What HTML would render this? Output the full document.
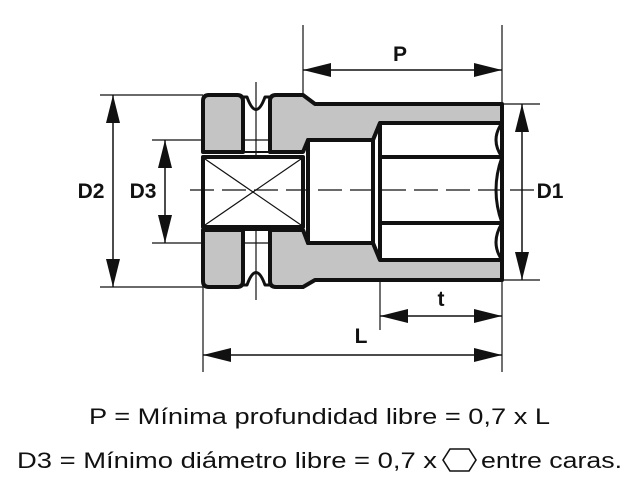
<!DOCTYPE html>
<html><head><style>
body{margin:0;background:#fff;width:639px;height:494px;overflow:hidden}
svg{display:block}
text{font-family:"Liberation Sans",sans-serif}
</style></head><body>
<svg width="639" height="494" viewBox="0 0 639 494" xmlns="http://www.w3.org/2000/svg">
<defs>
<marker id="b" viewBox="0 0 28 14" refX="28" refY="7" markerWidth="28" markerHeight="14" orient="auto-start-reverse" markerUnits="userSpaceOnUse"><path d="M0,0 L28,7 L0,14 z" fill="#111"/></marker>
</defs>
<g stroke="#111" stroke-width="1.2" fill="none">
<line x1="303" y1="25" x2="303" y2="95"/>
<line x1="502" y1="25" x2="502" y2="104"/>
<line x1="100" y1="95" x2="203" y2="95"/>
<line x1="100" y1="287" x2="203" y2="287"/>
<line x1="152" y1="140" x2="308" y2="140"/>
<line x1="152" y1="243" x2="308" y2="243"/>
<line x1="502" y1="104" x2="540" y2="104"/>
<line x1="502" y1="280" x2="540" y2="280"/>
<line x1="203" y1="287" x2="203" y2="372"/>
<line x1="502" y1="280" x2="502" y2="372"/>
<line x1="380" y1="280" x2="380" y2="330"/>
<line x1="256" y1="82" x2="256" y2="300"/>
</g>
<g stroke="#111" stroke-width="4" stroke-linejoin="round">
<path d="M203,152 L203,101 Q203,95 209,95 L237,95 Q243,95 243,101 L243,152 Z" fill="#c4c4c4"/>
<path d="M203,230 L203,281 Q203,287 209,287 L237,287 Q243,287 243,281 L243,230 Z" fill="#c4c4c4"/>
<path d="M243,97 L247,97 Q256,122 265,97 L270,97" fill="none" stroke-width="3"/>
<path d="M243,285 L247,285 Q256,260 265,285 L270,285" fill="none" stroke-width="3"/>
<line x1="243" y1="152" x2="270" y2="152" stroke-width="2"/>
<line x1="243" y1="230" x2="270" y2="230" stroke-width="2"/>
<path d="M270,152 L270,101 Q270,95 276,95 L303,95 L315,104 L502,104 L502,123 L380,123 L373,140 L308,140 L303,152 Z" fill="#c4c4c4"/>
<path d="M270,230 L270,281 Q270,287 276,287 L303,287 L315,280 L502,280 L502,260 L380,260 L373,243 L308,243 L303,230 Z" fill="#c4c4c4"/>
<rect x="203" y="157" width="100" height="70" fill="#fff"/>
<path d="M308,140 L373,140 L380,123 L502,123 L502,260 L380,260 L373,243 L308,243 Z" fill="#fff"/>
<line x1="373" y1="140" x2="373" y2="243"/>
<line x1="380" y1="123" x2="380" y2="260"/>
<line x1="380" y1="157" x2="502" y2="157"/>
<line x1="380" y1="223" x2="502" y2="223"/>
<path d="M502,123 Q490,140 502,157 Q490,190 502,223 Q490,243 502,260" fill="none" stroke-width="3"/>
</g>
<g stroke="#111" stroke-width="1.2">
<line x1="205" y1="159" x2="301" y2="225"/>
<line x1="205" y1="225" x2="301" y2="159"/>
<line x1="190" y1="190" x2="535" y2="190" stroke-dasharray="24,8"/>
</g>
<g stroke="#111" stroke-width="1.5">
<line x1="303" y1="70" x2="502" y2="70" marker-start="url(#b)" marker-end="url(#b)"/>
<line x1="113" y1="95" x2="113" y2="287" marker-start="url(#b)" marker-end="url(#b)"/>
<line x1="165" y1="140" x2="165" y2="243" marker-start="url(#b)" marker-end="url(#b)"/>
<line x1="522" y1="104" x2="522" y2="280" marker-start="url(#b)" marker-end="url(#b)"/>
<line x1="380" y1="316" x2="502" y2="316" marker-start="url(#b)" marker-end="url(#b)"/>
<line x1="203" y1="355" x2="502" y2="355" marker-start="url(#b)" marker-end="url(#b)"/>
</g>
<g font-weight="bold" font-size="21" fill="#111" text-anchor="middle">
<text x="400" y="61">P</text>
<text x="91" y="198">D2</text>
<text x="143" y="198">D3</text>
<text x="550" y="198">D1</text>
<text x="441" y="306">t</text>
<text x="361" y="343">L</text>
</g>
<g font-size="22" fill="#111">
<text x="89" y="424" textLength="461" lengthAdjust="spacingAndGlyphs">P = Mínima profundidad libre = 0,7 x L</text>
<text x="17" y="468" textLength="420" lengthAdjust="spacingAndGlyphs">D3 = Mínimo diámetro libre = 0,7 x</text>
<text x="481" y="468" textLength="141" lengthAdjust="spacingAndGlyphs">entre caras.</text>
</g>
<polygon points="443,460 450,449 469,449 476,460 469,471 450,471" fill="none" stroke="#111" stroke-width="1.6"/>
</svg>
</body></html>
